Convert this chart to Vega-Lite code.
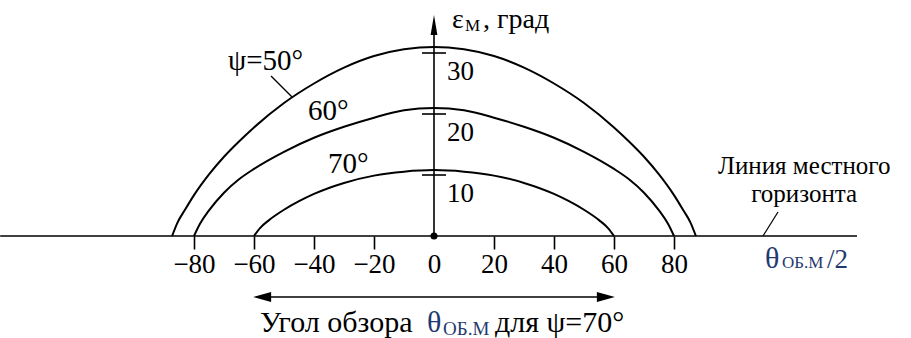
{
  "$schema": "https://vega.github.io/schema/vega-lite/v6.json",
  "width": 911,
  "height": 338,
  "autosize": {"type": "none"},
  "padding": 0,
  "background": "white",
  "config": {
    "view": {"stroke": null},
    "text": {"font": "Liberation Serif", "fontSize": 27, "color": "#000", "align": "left", "baseline": "alphabetic"},
    "rule": {"color": "#000", "strokeWidth": 1.6}
  },
  "data": {"values": [{}]},
  "datasets": {
    "curves": [
      {"psi": 50, "theta": -87.3, "elev": 0},
      {"psi": 50, "theta": -85.5, "elev": 2.2},
      {"psi": 50, "theta": -83, "elev": 4.3},
      {"psi": 50, "theta": -80, "elev": 6.7},
      {"psi": 50, "theta": -75, "elev": 10.1},
      {"psi": 50, "theta": -70, "elev": 13.0},
      {"psi": 50, "theta": -65, "elev": 15.5},
      {"psi": 50, "theta": -60, "elev": 17.8},
      {"psi": 50, "theta": -50, "elev": 21.8},
      {"psi": 50, "theta": -40, "elev": 25.0},
      {"psi": 50, "theta": -30, "elev": 27.6},
      {"psi": 50, "theta": -20, "elev": 29.5},
      {"psi": 50, "theta": -10, "elev": 30.6},
      {"psi": 50, "theta": 0, "elev": 31.0},
      {"psi": 50, "theta": 10, "elev": 30.6},
      {"psi": 50, "theta": 20, "elev": 29.5},
      {"psi": 50, "theta": 30, "elev": 27.6},
      {"psi": 50, "theta": 40, "elev": 25.0},
      {"psi": 50, "theta": 50, "elev": 21.8},
      {"psi": 50, "theta": 60, "elev": 17.8},
      {"psi": 50, "theta": 65, "elev": 15.5},
      {"psi": 50, "theta": 70, "elev": 13.0},
      {"psi": 50, "theta": 75, "elev": 10.1},
      {"psi": 50, "theta": 80, "elev": 6.7},
      {"psi": 50, "theta": 83, "elev": 4.3},
      {"psi": 50, "theta": 85.5, "elev": 2.2},
      {"psi": 50, "theta": 87.3, "elev": 0},
      {"psi": 60, "theta": -80, "elev": 0},
      {"psi": 60, "theta": -78, "elev": 2.0},
      {"psi": 60, "theta": -75, "elev": 4.2},
      {"psi": 60, "theta": -70, "elev": 7.1},
      {"psi": 60, "theta": -65, "elev": 9.3},
      {"psi": 60, "theta": -60, "elev": 11.0},
      {"psi": 60, "theta": -50, "elev": 13.8},
      {"psi": 60, "theta": -40, "elev": 16.1},
      {"psi": 60, "theta": -30, "elev": 17.9},
      {"psi": 60, "theta": -20, "elev": 19.4},
      {"psi": 60, "theta": -10, "elev": 20.6},
      {"psi": 60, "theta": 0, "elev": 21.0},
      {"psi": 60, "theta": 10, "elev": 20.6},
      {"psi": 60, "theta": 20, "elev": 19.4},
      {"psi": 60, "theta": 30, "elev": 17.9},
      {"psi": 60, "theta": 40, "elev": 16.1},
      {"psi": 60, "theta": 50, "elev": 13.8},
      {"psi": 60, "theta": 60, "elev": 11.0},
      {"psi": 60, "theta": 65, "elev": 9.3},
      {"psi": 60, "theta": 70, "elev": 7.1},
      {"psi": 60, "theta": 75, "elev": 4.2},
      {"psi": 60, "theta": 78, "elev": 2.0},
      {"psi": 60, "theta": 80, "elev": 0},
      {"psi": 70, "theta": -60, "elev": 0},
      {"psi": 70, "theta": -58, "elev": 1.3},
      {"psi": 70, "theta": -55, "elev": 2.6},
      {"psi": 70, "theta": -50, "elev": 4.3},
      {"psi": 70, "theta": -45, "elev": 5.7},
      {"psi": 70, "theta": -40, "elev": 6.9},
      {"psi": 70, "theta": -30, "elev": 8.7},
      {"psi": 70, "theta": -20, "elev": 9.9},
      {"psi": 70, "theta": -10, "elev": 10.55},
      {"psi": 70, "theta": 0, "elev": 10.8},
      {"psi": 70, "theta": 10, "elev": 10.55},
      {"psi": 70, "theta": 20, "elev": 9.9},
      {"psi": 70, "theta": 30, "elev": 8.7},
      {"psi": 70, "theta": 40, "elev": 6.9},
      {"psi": 70, "theta": 45, "elev": 5.7},
      {"psi": 70, "theta": 50, "elev": 4.3},
      {"psi": 70, "theta": 55, "elev": 2.6},
      {"psi": 70, "theta": 58, "elev": 1.3},
      {"psi": 70, "theta": 60, "elev": 0}
    ],
    "gradations": [{"v": 10}, {"v": 20}, {"v": 30}]
  },
  "layer": [
    {
      "data": {"name": "curves"},
      "mark": {"type": "line", "interpolate": "monotone", "color": "#000", "strokeWidth": 2},
      "encoding": {
        "x": {
          "field": "theta", "type": "quantitative",
          "scale": {"domain": [-144.667, 159], "nice": false, "zero": false},
          "axis": {
            "orient": "bottom", "offset": -102,
            "values": [-80, -60, -40, -20, 0, 20, 40, 60, 80],
            "format": "d", "title": null, "domain": false, "grid": false,
            "tickSize": 13, "tickWidth": 1.6, "tickColor": "#000",
            "tickOpacity": {"condition": {"test": "datum.value === 0", "value": 0}, "value": 1},
            "labelFont": "Liberation Serif", "labelFontSize": 27, "labelColor": "#000",
            "labelPadding": 2, "labelFlush": false, "labelOverlap": false
          }
        },
        "y": {
          "field": "elev", "type": "quantitative",
          "scale": {"domain": [-16.721, 38.689], "nice": false, "zero": false},
          "axis": null
        },
        "detail": {"field": "psi", "type": "nominal"}
      }
    },
    {
      "mark": {"type": "rule"},
      "encoding": {"x": {"datum": -144.6}, "x2": {"datum": 141}, "y": {"datum": 0}}
    },
    {
      "mark": {"type": "rule"},
      "encoding": {"x": {"datum": 0}, "y": {"datum": 0}, "y2": {"datum": 33}}
    },
    {
      "mark": {"type": "point", "shape": "M0,-1L0.34,1L-0.34,1Z", "size": 400, "filled": true, "color": "#000", "opacity": 1, "strokeWidth": 0},
      "encoding": {"x": {"datum": 0}, "y": {"datum": 34.59}}
    },
    {
      "mark": {"type": "circle", "size": 50, "color": "#000", "opacity": 1},
      "encoding": {"x": {"datum": 0}, "y": {"datum": 0}}
    },
    {
      "data": {"name": "gradations"},
      "mark": {"type": "rule"},
      "encoding": {"y": {"field": "v", "type": "quantitative"}, "x": {"datum": -4}, "x2": {"datum": 4}}
    },
    {
      "data": {"name": "gradations"},
      "mark": {"type": "text", "dy": 27},
      "encoding": {"x": {"datum": 4.33}, "y": {"field": "v", "type": "quantitative"}, "text": {"field": "v", "type": "quantitative"}}
    },
    {
      "mark": {"type": "rule", "strokeWidth": 1.3},
      "encoding": {"x": {"datum": -54.33}, "y": {"datum": 26.23}, "x2": {"datum": -47.33}, "y2": {"datum": 22.79}}
    },
    {
      "mark": {"type": "rule", "strokeWidth": 1.3},
      "encoding": {"x": {"datum": 114.67}, "y": {"datum": 3.93}, "x2": {"datum": 109.67}, "y2": {"datum": 0}}
    },
    {
      "mark": {"type": "rule"},
      "encoding": {"x": {"datum": -57}, "x2": {"datum": 57}, "y": {"datum": -10}}
    },
    {
      "mark": {"type": "point", "shape": "M1,0L-1,-0.55L-1,0.55Z", "size": 324, "filled": true, "color": "#000", "opacity": 1, "strokeWidth": 0},
      "encoding": {"x": {"datum": 57.3}, "y": {"datum": -10}}
    },
    {
      "mark": {"type": "point", "shape": "M-1,0L1,-0.55L1,0.55Z", "size": 324, "filled": true, "color": "#000", "opacity": 1, "strokeWidth": 0},
      "encoding": {"x": {"datum": -57.3}, "y": {"datum": -10}}
    },
    {"mark": {"type": "text", "text": "ψ=50°", "fontSize": 29}, "encoding": {"x": {"datum": -68.67}, "y": {"datum": 27.2}}},
    {"mark": {"type": "text", "text": "60°", "fontSize": 29}, "encoding": {"x": {"datum": -42}, "y": {"datum": 19.02}}},
    {"mark": {"type": "text", "text": "70°", "fontSize": 29}, "encoding": {"x": {"datum": -35.33}, "y": {"datum": 10.33}}},
    {"mark": {"type": "text", "text": "ε", "fontSize": 28}, "encoding": {"x": {"datum": 6}, "y": {"datum": 34.1}}},
    {"mark": {"type": "text", "text": "М", "fontSize": 17}, "encoding": {"x": {"datum": 10.33}, "y": {"datum": 33.6}}},
    {"mark": {"type": "text", "text": ", град", "fontSize": 28}, "encoding": {"x": {"datum": 16.33}, "y": {"datum": 34.1}}},
    {
      "mark": {"type": "text", "text": ["Линия местного", "горизонта"], "fontSize": 25, "align": "center", "lineHeight": 28},
      "encoding": {"x": {"datum": 123.4}, "y": {"datum": 10.16}}
    },
    {"mark": {"type": "text", "text": "θ", "fontSize": 30, "color": "#1f3a70"}, "encoding": {"x": {"datum": 110.33}, "y": {"datum": -5.25}}},
    {"mark": {"type": "text", "text": "ОБ.М", "fontSize": 17, "color": "#1f3a70"}, "encoding": {"x": {"datum": 116}, "y": {"datum": -5.25}}},
    {"mark": {"type": "text", "text": "/2", "color": "#1f3a70"}, "encoding": {"x": {"datum": 131}, "y": {"datum": -5.25}}},
    {"mark": {"type": "text", "text": "Угол обзора", "fontSize": 30}, "encoding": {"x": {"datum": -58}, "y": {"datum": -15.74}}},
    {"mark": {"type": "text", "text": "θ", "fontSize": 30, "color": "#1f3a70"}, "encoding": {"x": {"datum": -2.33}, "y": {"datum": -15.74}}},
    {"mark": {"type": "text", "text": "ОБ.М", "fontSize": 19, "color": "#1f3a70"}, "encoding": {"x": {"datum": 3}, "y": {"datum": -16.23}}},
    {"mark": {"type": "text", "text": "для ψ=70°", "fontSize": 30}, "encoding": {"x": {"datum": 20.33}, "y": {"datum": -15.74}}}
  ]
}
